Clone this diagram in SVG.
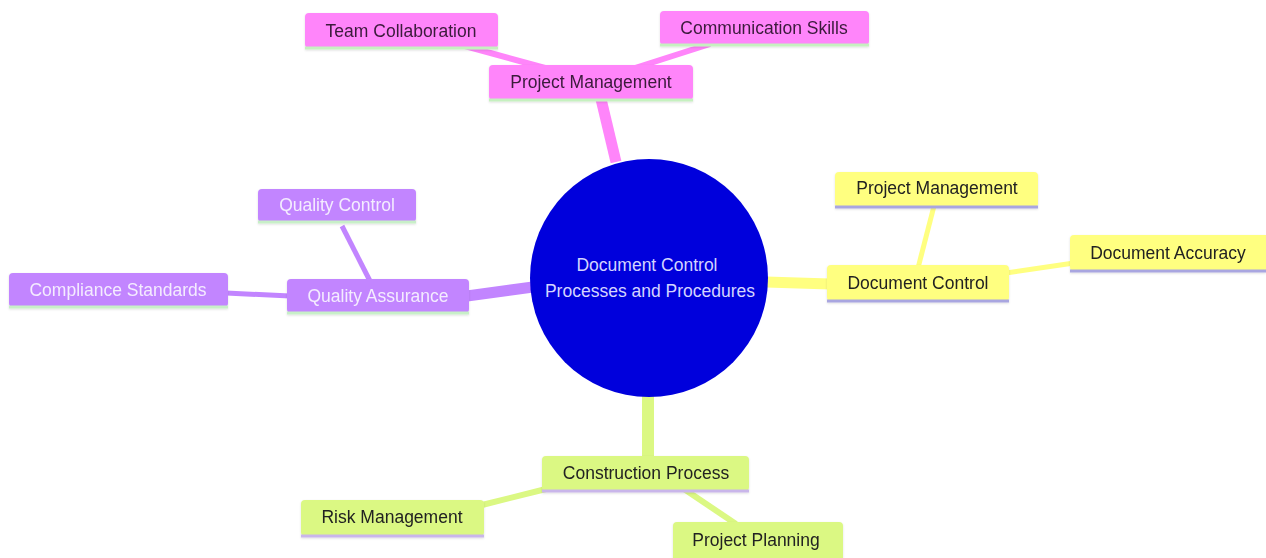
<svg xmlns="http://www.w3.org/2000/svg" width="1266" height="558" viewBox="0 0 1266 558">
<style>
text{font-family:"Liberation Sans",Arial,sans-serif;font-size:17.5px;text-anchor:middle}
.e{fill:none;stroke-linecap:butt}
.pk{fill:#ff85fa}.pkl{stroke:#c6f0c0}.pkt{fill:#3a1a3a}
.yl{fill:#ffff80}.yll{stroke:#a9a6e0}.ylt{fill:#222}
.pu{fill:#c285ff}.pul{stroke:#c8efc8}.put{fill:#f4ecff}
.gr{fill:#dbf883}.grl{stroke:#c9b6ea}.grt{fill:#222}
.bl{stroke-width:3}
</style>
<defs>
<filter id="sh" x="-10%" y="-20%" width="120%" height="150%"><feDropShadow dx="0" dy="1" stdDeviation="1.2" flood-color="#000" flood-opacity="0.12"/></filter>
</defs>
<rect width="1266" height="558" fill="#fff"/>
<g id="connectors">
<line class="e" x1="616" y1="162" x2="601" y2="99" stroke="#ff85fa" stroke-width="11"/>
<line class="e" x1="465" y1="46" x2="545" y2="68" stroke="#ff85fa" stroke-width="6"/>
<line class="e" x1="710" y1="44" x2="635" y2="68" stroke="#ff85fa" stroke-width="6"/>
<line class="e" x1="766" y1="282" x2="830" y2="284" stroke="#ffff80" stroke-width="11"/>
<line class="e" x1="934" y1="206" x2="918" y2="268" stroke="#ffff80" stroke-width="5"/>
<line class="e" x1="1074" y1="263" x2="1006" y2="273" stroke="#ffff80" stroke-width="5"/>
<line class="e" x1="533" y1="287" x2="467" y2="296" stroke="#c285ff" stroke-width="11"/>
<line class="e" x1="342" y1="226" x2="370" y2="281" stroke="#c285ff" stroke-width="5"/>
<line class="e" x1="226" y1="293" x2="290" y2="296" stroke="#c285ff" stroke-width="5"/>
<line class="e" x1="648" y1="396" x2="648" y2="458" stroke="#dbf883" stroke-width="12"/>
<line class="e" x1="482" y1="505" x2="546" y2="489" stroke="#dbf883" stroke-width="6"/>
<line class="e" x1="684" y1="489" x2="736" y2="524" stroke="#dbf883" stroke-width="6"/>
</g>
<g id="root">
<circle cx="649" cy="278" r="119" fill="#0000dc"/>
<text x="647" y="271" fill="#d4d4ff">Document Control</text>
<text x="650" y="297" fill="#d4d4ff">Processes and Procedures</text>
</g>
<g id="pm-top" filter="url(#sh)">
<rect class="pk" x="489" y="65" width="204" height="35" rx="4"/>
<line class="pkl bl" x1="489" y1="100" x2="693" y2="100"/>
<text class="pkt" x="591" y="88">Project Management</text>
</g>
<g id="team-collaboration" filter="url(#sh)">
<rect class="pk" x="305" y="13" width="193" height="35" rx="4"/>
<line class="pkl bl" x1="305" y1="48" x2="498" y2="48"/>
<text class="pkt" x="401" y="37">Team Collaboration</text>
</g>
<g id="communication-skills" filter="url(#sh)">
<rect class="pk" x="660" y="11" width="209" height="34" rx="4"/>
<line class="pkl bl" x1="660" y1="45" x2="869" y2="45"/>
<text class="pkt" x="764" y="34">Communication Skills</text>
</g>
<g id="document-control" filter="url(#sh)">
<rect class="yl" x="827" y="265" width="182" height="36" rx="4"/>
<line class="yll bl" x1="827" y1="301" x2="1009" y2="301"/>
<text class="ylt" x="918" y="289">Document Control</text>
</g>
<g id="pm-right" filter="url(#sh)">
<rect class="yl" x="835" y="172" width="203" height="35" rx="4"/>
<line class="yll bl" x1="835" y1="207" x2="1038" y2="207"/>
<text class="ylt" x="937" y="194">Project Management</text>
</g>
<g id="document-accuracy" filter="url(#sh)">
<rect class="yl" x="1070" y="235" width="200" height="36" rx="4"/>
<line class="yll bl" x1="1070" y1="271" x2="1266" y2="271"/>
<text class="ylt" x="1168" y="259">Document Accuracy</text>
</g>
<g id="quality-assurance" filter="url(#sh)">
<rect class="pu" x="287" y="279" width="182" height="34" rx="4"/>
<line class="pul bl" x1="287" y1="313" x2="469" y2="313"/>
<text class="put" x="378" y="302">Quality Assurance</text>
</g>
<g id="quality-control" filter="url(#sh)">
<rect class="pu" x="258" y="189" width="158" height="33" rx="4"/>
<line class="pul bl" x1="258" y1="222" x2="416" y2="222"/>
<text class="put" x="337" y="211">Quality Control</text>
</g>
<g id="compliance-standards" filter="url(#sh)">
<rect class="pu" x="9" y="273" width="219" height="34" rx="4"/>
<line class="pul bl" x1="9" y1="307" x2="228" y2="307"/>
<text class="put" x="118" y="296">Compliance Standards</text>
</g>
<g id="construction-process" filter="url(#sh)">
<rect class="gr" x="542" y="456" width="207" height="35" rx="4"/>
<line class="grl bl" x1="542" y1="491" x2="749" y2="491"/>
<text class="grt" x="646" y="479">Construction Process</text>
</g>
<g id="risk-management" filter="url(#sh)">
<rect class="gr" x="301" y="500" width="183" height="36" rx="4"/>
<line class="grl bl" x1="301" y1="536" x2="484" y2="536"/>
<text class="grt" x="392" y="523">Risk Management</text>
</g>
<g id="project-planning" filter="url(#sh)">
<rect class="gr" x="673" y="522" width="170" height="40" rx="4"/>
<text class="grt" x="756" y="546">Project Planning</text>
</g>
</svg>
